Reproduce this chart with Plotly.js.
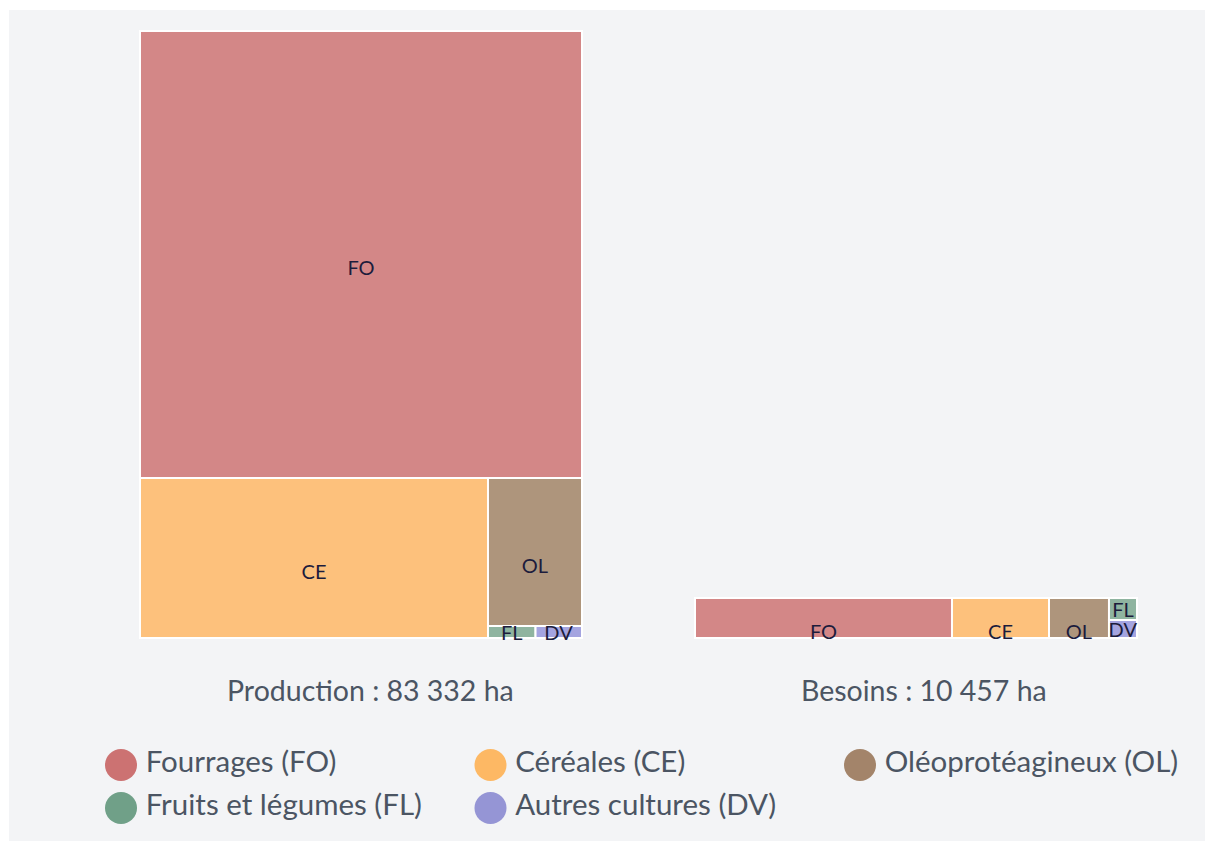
<!DOCTYPE html>
<html>
<head>
<meta charset="utf-8">
<script src="https://cdn.plot.ly/plotly-3.0.1.min.js"></script>
<style>
  html, body { margin: 0; padding: 0; background: #ffffff; }
  #wrap { position: absolute; left: 9px; top: 10px; width: 1196px; height: 831px; background: #f3f4f6; }
  #chart { width: 1196px; height: 831px; }
</style>
</head>
<body>
<div id="wrap"><div id="chart"></div></div>
<script>
// ---- data ----
const codes = ["FO", "CE", "OL", "FL", "DV"];
const categoryNames = ["Fourrages (FO)", "Céréales (CE)", "Oléoprotéagineux (OL)", "Fruits et légumes (FL)", "Autres cultures (DV)"];
const productionValues = [61366, 17294, 4320, 178, 174];
const besoinsValues = [6080, 2295, 1419, 365, 298];
const panelTitles = ["Production", "Besoins"];
const unit = "ha";
const tileColors = ["#d38787", "#fdc17c", "#ae957c", "#8fb4a0", "#a4a4e0"];
const legendColors = ["#cc7272", "#fdb864", "#a3846a", "#70a088", "#9595d5"];

// ---- layout helpers ----
const W = 1196, H = 831;
function px(x) { return x / W; }
function py(y) { return 1 - y / H; }
function fmt(n) {
  const s = String(Math.round(n));
  return s.replace(/\B(?=(\d{3})+(?!\d))/g, "\u202F");
}
const sum = a => a.reduce((p, c) => p + c, 0);

// labels of the three large categories sit a little below the tile centre
const templates = codes.map((c, i) => i < 3 ? "\u00A0<br>%{label}" : "%{label}");

const treemapCommon = {
  type: "treemap",
  labels: codes,
  parents: codes.map(() => ""),
  marker: { colors: tileColors, line: { color: "#ffffff", width: 2 }, pad: { t: 0, l: 0, r: 0, b: 0 } },
  root: { color: "rgba(0,0,0,0)" },
  pathbar: { visible: false },
  textposition: "middle center",
  texttemplate: templates,
  textfont: { family: "Lato, 'Open Sans', sans-serif", size: 20, color: "#1c1c3c" },
  tiling: { packing: "squarify", pad: 0 },
  hovertemplate: "%{label}: %{value}<extra></extra>"
};

const tmProd = Object.assign({}, treemapCommon, {
  values: productionValues,
  domain: { x: [px(131), px(573)], y: [py(628), py(21)] }
});
const tmBes = Object.assign({}, treemapCommon, {
  values: besoinsValues,
  domain: { x: [px(686), px(1128)], y: [py(628), py(588)] }
});

// custom legend (laid out in pixel space on hidden axes)
const legX = categoryNames.map((_, i) => 112 + (i % 3) * 369.5);
const legY = categoryNames.map((_, i) => 755 + Math.floor(i / 3) * 43);
const legendTrace = {
  type: "scatter",
  mode: "markers+text",
  x: legX, y: legY,
  text: categoryNames.map(t => "\u2009" + t),
  textposition: "middle right",
  textfont: { family: "Lato, sans-serif", size: 29.5, color: "#4b5563" },
  marker: { size: 32, color: legendColors, line: { width: 0 } },
  hoverinfo: "skip",
  cliponaxis: false,
  showlegend: false
};

const annotations = [
  { x: px(361), y: py(680), text: panelTitles[0] + "\u00A0: " + fmt(sum(productionValues)) + " " + unit },
  { x: px(914.5), y: py(680), text: panelTitles[1] + "\u00A0: " + fmt(sum(besoinsValues)) + " " + unit }
].map(a => Object.assign(a, {
  xref: "paper", yref: "paper", showarrow: false, xanchor: "center", yanchor: "middle",
  font: { family: "Lato, sans-serif", size: 28.5, color: "#4b5563" }
}));

const layout = {
  width: W, height: H,
  margin: { l: 0, r: 0, t: 0, b: 0 },
  paper_bgcolor: "#f3f4f6",
  plot_bgcolor: "rgba(0,0,0,0)",
  showlegend: false,
  uniformtext: { mode: "show", minsize: 20 },
  xaxis: { visible: false, range: [0, W], domain: [0, 1], fixedrange: true },
  yaxis: { visible: false, range: [H, 0], domain: [0, 1], fixedrange: true },
  annotations: annotations
};

Plotly.newPlot("chart", [tmProd, tmBes, legendTrace], layout, { displayModeBar: false });
</script>
</body>
</html>
